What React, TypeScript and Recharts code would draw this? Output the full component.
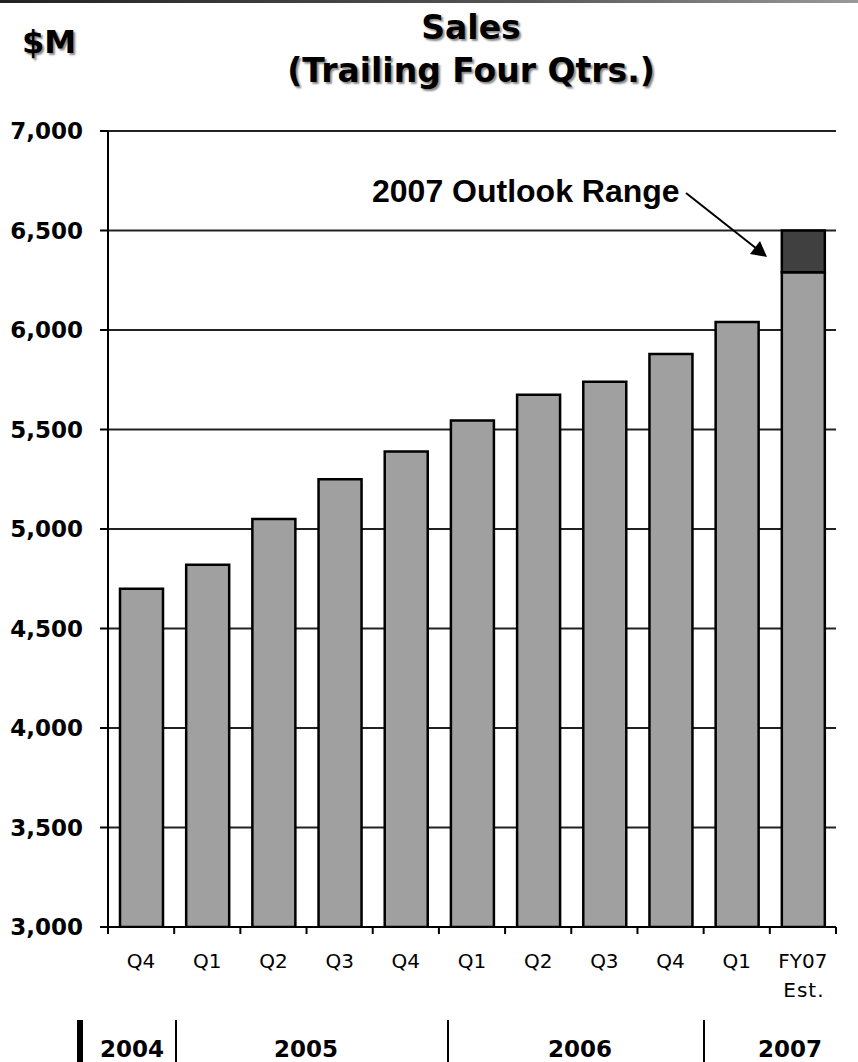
import React from 'react';
import { BarChart, Bar, XAxis, YAxis, CartesianGrid } from 'recharts';

const categories = ['Q4', 'Q1', 'Q2', 'Q3', 'Q4', 'Q1', 'Q2', 'Q3', 'Q4', 'Q1', 'FY07'];
const subLabels = ['', '', '', '', '', '', '', '', '', '', 'Est.'];
const salesValues = [4700, 4820, 5050, 5250, 5390, 5545, 5675, 5740, 5880, 6040, 6290];
const outlookHigh = [null, null, null, null, null, null, null, null, null, null, 6500];
const yTicks = [3000, 3500, 4000, 4500, 5000, 5500, 6000, 6500, 7000];
const yearLabels = ['2004', '2005', '2006', '2007'];

const data = categories.map((c, i) => ({
  cat: c,
  sales: salesValues[i],
  range: outlookHigh[i] != null ? (outlookHigh[i] as number) - salesValues[i] : null,
}));

const W = 858;
const H = 1062;
const PLOT_LEFT = 108;
const PLOT_RIGHT = 836;
const PLOT_TOP = 131;
const PLOT_BOTTOM = 927;
const PLOT_W = PLOT_RIGHT - PLOT_LEFT;

const XTick = (props: any) => {
  const { x, y, index, payload, visibleTicksCount } = props;
  const n = visibleTicksCount || categories.length;
  const band = PLOT_W / n;
  const left = x - band / 2;
  return (
    <g>
      <line x1={left} y1={y} x2={left} y2={y + 7} stroke="#000" strokeWidth={2} />
      {index === n - 1 && (
        <line x1={left + band} y1={y} x2={left + band} y2={y + 7} stroke="#000" strokeWidth={2} />
      )}
      <text x={x} y={y + 41} textAnchor="middle" fontFamily="'DejaVu Sans', sans-serif" fontSize={20} fill="#000">
        {payload.value}
      </text>
      {subLabels[index] ? (
        <text x={x + 1} y={y + 70} textAnchor="middle" fontFamily="'DejaVu Sans', sans-serif" fontSize={20} fill="#000" letterSpacing={1}>
          {subLabels[index]}
        </text>
      ) : null}
    </g>
  );
};

const fmt = (v: number) => v.toLocaleString('en-US');

export default function App() {
  const boldFont = "'DejaVu Sans', Verdana, sans-serif";
  return (
    <div style={{ position: 'absolute', left: 0, top: 0, width: W, height: H, background: '#fff', overflow: 'hidden' }}>
      <div style={{ position: 'absolute', left: 0, top: 0, width: W, height: 3, background: 'linear-gradient(to right, #222, #555 60%, #999)' }} />
      <BarChart
        width={W}
        height={H}
        data={data}
        margin={{ top: PLOT_TOP, right: W - PLOT_RIGHT, left: 0, bottom: 35 }}
        barSize={43}
      >
        <CartesianGrid vertical={false} stroke="#222" strokeWidth={2} />
        <XAxis
          dataKey="cat"
          height={H - PLOT_BOTTOM - 35}
          axisLine={{ stroke: '#000', strokeWidth: 2 }}
          tickLine={false}
          tickSize={0}
          tickMargin={0}
          interval={0}
          tick={<XTick />}
        />
        <YAxis
          width={PLOT_LEFT}
          domain={[3000, 7000]}
          ticks={yTicks}
          allowDataOverflow
          tickFormatter={fmt}
          axisLine={{ stroke: '#000', strokeWidth: 2 }}
          tickLine={{ stroke: '#000', strokeWidth: 2 }}
          tickSize={8}
          tickMargin={17}
          tick={{ fill: '#000', fontFamily: boldFont, fontWeight: 'bold', fontSize: 23 }}
        />
        <Bar dataKey="sales" stackId="a" fill="#a0a0a0" stroke="#000" strokeWidth={2.5} isAnimationActive={false} />
        <Bar dataKey="range" stackId="a" fill="#404040" stroke="#000" strokeWidth={2.5} isAnimationActive={false} />
      </BarChart>

      <div style={{ position: 'absolute', left: 0, width: W - 30, top: 6, textAlign: 'center', paddingLeft: 114, boxSizing: 'border-box', fontFamily: boldFont, fontWeight: 'bold', fontSize: 33, lineHeight: '43px', color: '#000', textShadow: '2px 2px 2px #888' }}>
        <div>Sales</div>
        <div>(Trailing Four Qtrs.)</div>
      </div>
      <div style={{ position: 'absolute', left: 22, top: 22, fontFamily: boldFont, fontWeight: 'bold', fontSize: 32, lineHeight: '40px', color: '#000', textShadow: '2px 2px 2px #888' }}>
        $M
      </div>

      <svg width={W} height={H} style={{ position: 'absolute', left: 0, top: 0, pointerEvents: 'none' }}>
        <text x={372} y={202} fontFamily="'Liberation Sans', Arial, sans-serif" fontWeight="bold" fontSize={32} fill="#000">
          2007 Outlook Range
        </text>
        <line x1={686} y1={193} x2={757} y2={249} stroke="#000" strokeWidth={2} />
        <polygon points="767,257 750,254 760,241" fill="#000" />

        <rect x={77} y={1020} width={6} height={42} fill="#000" />
        <rect x={175} y={1020} width={2} height={42} fill="#000" />
        <rect x={447} y={1020} width={2} height={42} fill="#000" />
        <rect x={703} y={1020} width={2} height={42} fill="#000" />
        {yearLabels.map((yl, i) => (
          <text key={yl} x={[132, 306, 580, 790][i]} y={1057} textAnchor="middle" fontFamily={boldFont} fontWeight="bold" fontSize={23} fill="#000">
            {yl}
          </text>
        ))}
      </svg>
    </div>
  );
}
